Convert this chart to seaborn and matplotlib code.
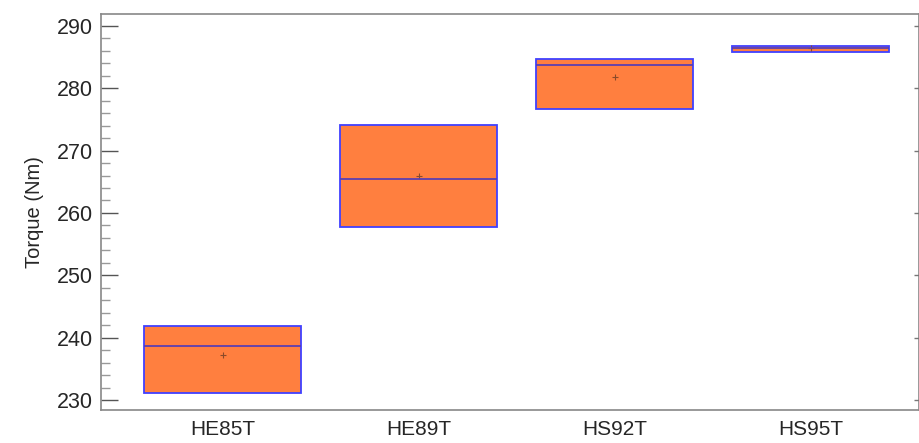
import seaborn as sns
import matplotlib.pyplot as plt
import pandas as pd
from matplotlib.ticker import MultipleLocator

# Box statistics
models = ["HE85T", "HE89T", "HS92T", "HS95T"]
q1 = [231.1, 257.7, 276.7, 285.8]
median = [238.6, 265.4, 283.7, 286.5]
q3 = [241.9, 274.1, 284.7, 286.8]
means = [237.2, 265.9, 281.8, 286.4]

# five points per model give exactly these quartiles (whiskers collapse onto box with whis=0)
rows = []
for m, a, b, c in zip(models, q1, median, q3):
    for v in [a, a, b, c, c]:
        rows.append({"model": m, "torque": v})
df = pd.DataFrame(rows)
mean_df = pd.DataFrame({"model": models, "torque": means})

sns.set_style("white")
plt.rcParams["font.family"] = ["Liberation Sans", "DejaVu Sans"]

fig = plt.figure(figsize=(9.19, 4.43), dpi=100)
ax = fig.add_axes([101 / 919, 1 - 410 / 443, 817.5 / 919, 396 / 443])

sns.boxplot(data=df, x="model", y="torque", order=models, whis=0, showfliers=False,
            width=0.8, color="#FF7F3F", saturation=1, linecolor="#4040FF",
            linewidth=1.3, showcaps=False, ax=ax,
            medianprops={"color": "#5a3fb0", "linewidth": 1.3})
sns.pointplot(data=mean_df, x="model", y="torque", order=models, linestyle="none",
              marker="+", color="#8a4a2a", markersize=4, markeredgewidth=0.8,
              errorbar=None, ax=ax)

ylim = (228.4, 291.9)
ax.set_xlim(-0.622, 3.551)
ax.set_ylim(*ylim)
ax.yaxis.set_major_locator(MultipleLocator(10))
ax.yaxis.set_minor_locator(MultipleLocator(2))
ax.tick_params(axis="y", which="major", direction="in", length=12, width=1,
               color="#555555", labelsize=15.5, pad=6, left=True, right=False)
ax.tick_params(axis="y", which="minor", direction="in", length=6.5, width=1,
               color="#999999", left=True, right=False)
ax.tick_params(axis="x", length=0, labelsize=15, pad=7)
ax.set_xlabel("")
ax.set_ylabel("Torque (Nm)", fontsize=14.5, labelpad=9)
for s in ax.spines.values():
    s.set_color("#888888")
    s.set_linewidth(1.2)

# short ticks on the right side
ax2 = ax.twinx()
ax2.set_ylim(*ylim)
ax2.yaxis.set_major_locator(MultipleLocator(10))
ax2.tick_params(axis="y", direction="in", length=3.5, width=1, color="#777777",
                labelright=False)
for s in ax2.spines.values():
    s.set_visible(False)

fig.savefig("out.png", dpi=100)
